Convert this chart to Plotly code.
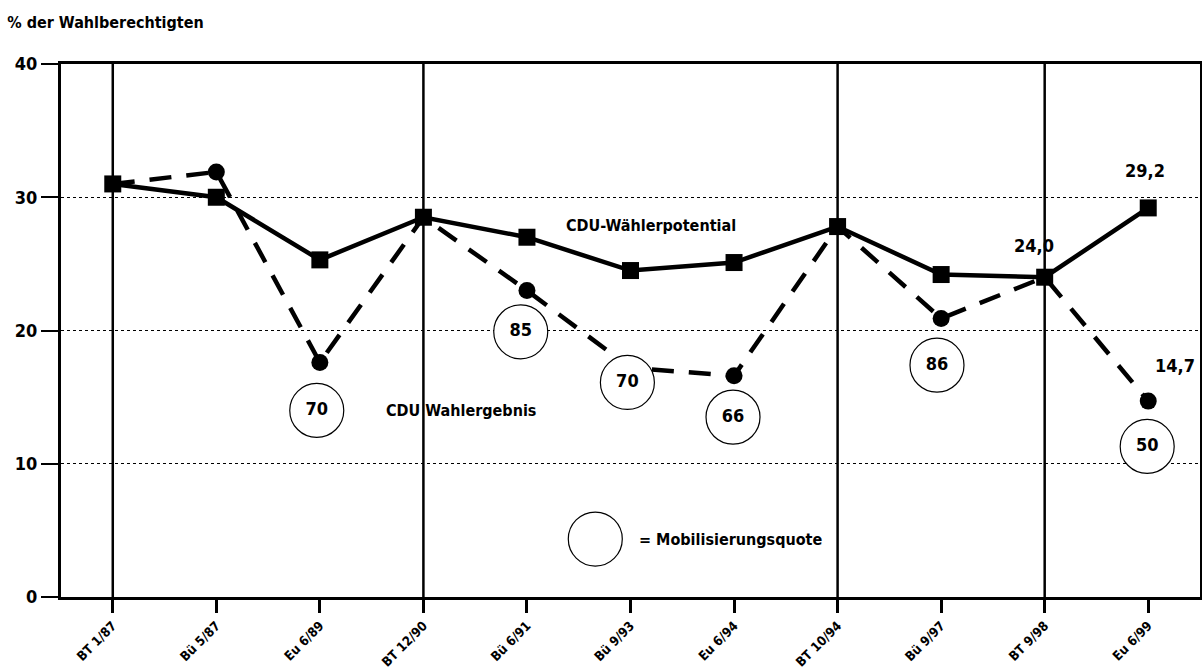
import plotly.graph_objects as go

categories = ["BT 1/87", "Bü 5/87", "Eu 6/89", "BT 12/90", "Bü 6/91", "Bü 9/93",
              "Eu 6/94", "BT 10/94", "Bü 9/97", "BT 9/98", "Eu 6/99"]
potential = [31.0, 30.0, 25.3, 28.5, 27.0, 24.5, 25.1, 27.8, 24.2, 24.0, 29.2]
ergebnis = [31.0, 31.9, 17.6, 28.5, 23.0, 17.2, 16.6, 27.8, 20.9, 24.0, 14.7]
mob_labels = ["70", "85", "70", "66", "86", "50"]
mob_x = [1.97, 3.94, 4.97, 5.99, 7.96, 9.99]
mob_y = [14.0, 19.9, 16.1, 13.5, 17.4, 11.3]
y_ticks = [0, 10, 20, 30, 40]

FONT = "Liberation Sans Narrow, DejaVu Sans Condensed, Arial Narrow, sans-serif"
xs = list(range(len(categories)))

fig = go.Figure()

# vertical lines at Bundestag elections
for i, c in enumerate(categories):
    if c.startswith("BT"):
        fig.add_vline(x=i, line=dict(color="black", width=2.5), layer="below")

# dashed Wahlergebnis
fig.add_trace(go.Scatter(x=xs, y=ergebnis, mode="lines",
                         line=dict(color="black", width=4.5, dash="22px,15px"),
                         showlegend=False, hoverinfo="skip"))
non_bt = [i for i, c in enumerate(categories) if not c.startswith("BT")]
fig.add_trace(go.Scatter(x=non_bt, y=[ergebnis[i] for i in non_bt], mode="markers",
                         marker=dict(color="black", size=17, symbol="circle"),
                         showlegend=False, hoverinfo="skip"))
# solid potential
fig.add_trace(go.Scatter(x=xs, y=potential, mode="lines+markers",
                         line=dict(color="black", width=4.5),
                         marker=dict(color="black", size=17, symbol="square"),
                         showlegend=False, hoverinfo="skip"))
# mobilisation circles
fig.add_trace(go.Scatter(x=mob_x, y=mob_y, mode="markers+text", text=mob_labels,
                         textposition="middle center",
                         textfont=dict(family=FONT, size=18, color="black", weight="bold"),
                         marker=dict(color="white", size=54, symbol="circle",
                                     line=dict(color="black", width=1.2)),
                         showlegend=False, hoverinfo="skip"))
# legend circle
fig.add_trace(go.Scatter(x=[4.66], y=[4.35], mode="markers",
                         marker=dict(color="white", size=54, symbol="circle",
                                     line=dict(color="black", width=1.2)),
                         showlegend=False, hoverinfo="skip"))

def ann(x, y, text, xanchor="center", size=15):
    fig.add_annotation(x=x, y=y, text=text, showarrow=False, xanchor=xanchor,
                       yanchor="middle",
                       font=dict(family=FONT, size=size, color="black", weight="bold"))

ann(5.2, 27.9, "CDU-Wählerpotential", size=16)
ann(3.36, 14.0, "CDU Wahlergebnis", size=16)
ann(5.06, 4.35, "= Mobilisierungsquote", xanchor="left", size=16)
ann(8.9, 26.4, f"{potential[9]:.1f}".replace(".", ","), size=18)
ann(9.97, 32.0, f"{potential[10]:.1f}".replace(".", ","), size=18)
ann(10.26, 17.4, f"{ergebnis[10]:.1f}".replace(".", ","), size=18)

fig.update_layout(
    width=1202, height=670,
    margin=dict(l=61, r=2, t=64, b=73, autoexpand=False),
    paper_bgcolor="white", plot_bgcolor="white",
    title=dict(text="% der Wahlberechtigten", x=0.006, xanchor="left",
               y=0.967, yanchor="middle",
               font=dict(family=FONT, size=16, color="black", weight="bold")),
    xaxis=dict(range=[-0.5, 10.5], tickvals=xs, ticktext=categories, tickangle=-45,
               automargin=False,
               showgrid=False, zeroline=False, showline=True, linecolor="black",
               linewidth=3, mirror=True, ticks="outside", ticklen=13, tickwidth=3,
               tickcolor="black",
               tickfont=dict(family=FONT, size=13, color="black", weight="bold")),
    yaxis=dict(range=[0, 40], tickvals=y_ticks, showgrid=True, gridcolor="black",
               griddash="dot", gridwidth=1, zeroline=False, showline=True,
               automargin=False,
               linecolor="black", linewidth=3, mirror=True, ticks="outside",
               ticklen=17, tickwidth=2, tickcolor="black",
               tickfont=dict(family=FONT, size=18, color="black", weight="bold")),
)

fig.write_html("out.html")
